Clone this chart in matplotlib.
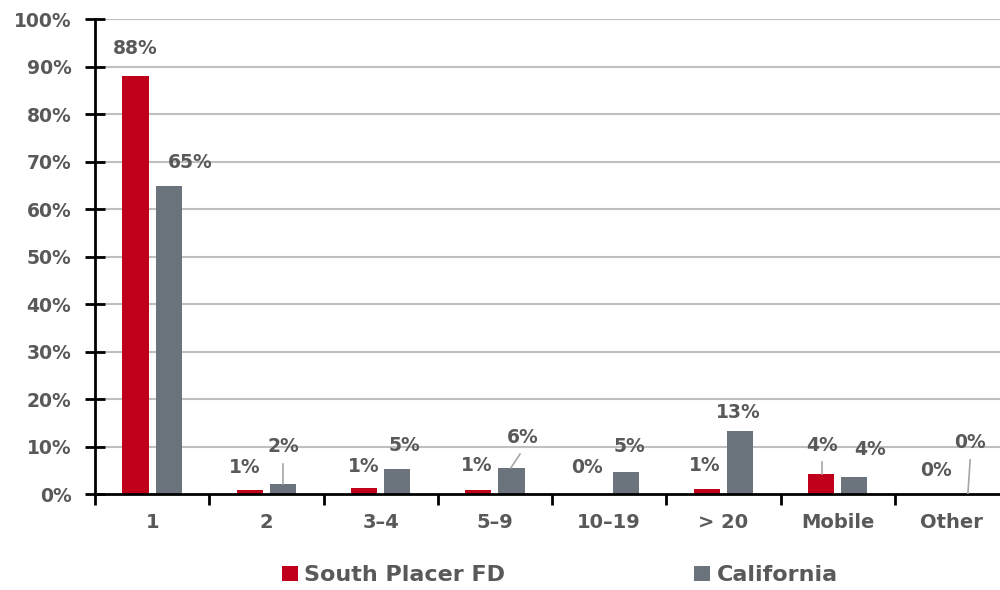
import matplotlib
matplotlib.use("Agg")
import matplotlib.pyplot as plt
import numpy as np

categories = ["1", "2", "3–4", "5–9", "10–19", "> 20", "Mobile", "Other"]
south_placer = [88.0, 0.9, 1.2, 0.9, 0.0, 1.0, 4.2, 0.0]
california = [64.8, 2.1, 5.2, 5.5, 4.6, 13.2, 3.6, 0.0]
series_names = ["South Placer FD", "California"]
ytick_vals = list(range(0, 101, 10))

RED = "#c0001a"
GRAY = "#6b737c"
TXT = "#595959"

plt.rcParams['font.family'] = ['DejaVu Sans']
plt.rcParams['font.weight'] = 'bold'

fig = plt.figure(figsize=(10, 5.9), dpi=100)
ax = fig.add_axes([0.095, 0.1627, 0.914, 0.805])

x = np.arange(len(categories)) + 0.5
w = 0.23
off = 0.145
b1 = ax.bar(x - off, south_placer, w, color=RED, zorder=3, label=series_names[0])
b2 = ax.bar(x + off, california, w, color=GRAY, zorder=3, label=series_names[1])

ax.set_xlim(0, len(categories))
ax.set_ylim(0, 100)
ax.set_yticks(ytick_vals)
ax.set_yticklabels([f"{v}%" for v in ytick_vals], fontsize=13.5, color=TXT, fontweight='bold')
for v in ytick_vals[1:]:
    ax.axhline(v, color="#bfbfbf", lw=1.5, zorder=1)

ax.set_xticks(np.arange(len(categories) + 1))
ax.set_xticklabels([])
ax.set_xticks(x, minor=True)
ax.set_xticklabels(categories, minor=True, fontsize=14, color=TXT, fontweight='bold')
ax.tick_params(axis='x', which='major', length=8, width=2, direction='out', color='black')
ax.tick_params(axis='x', which='minor', length=0, pad=14)
ax.tick_params(axis='y', length=14, width=2, direction='inout', color='black', pad=10)

for s in ['top', 'right']:
    ax.spines[s].set_visible(False)
ax.spines['left'].set_linewidth(2)
ax.spines['bottom'].set_linewidth(2)
ax.spines['left'].set_zorder(4)
ax.spines['bottom'].set_zorder(4)

# label positions (data coords) for each series: (x, y) and optional leader line
red_pos = [(0.35, 93.9, None), (1.31, 5.6, None), (2.35, 5.7, None), (3.34, 6.0, None),
           (4.31, 5.5, None), (5.34, 6.0, None), (6.36, 10.2, (6.36, 6.7, 4.3)),
           (7.36, 5.0, None)]
gray_pos = [(0.83, 69.8, None), (1.646, 10.1, (1.646, 6.3, 2.1)), (2.71, 10.3, None),
            (3.74, 12.0, (3.72, 8.4, 5.5, 3.64)), (4.68, 9.9, None), (5.63, 17.2, None),
            (6.78, 9.4, None), (7.66, 10.8, (7.66, 7.2, 0.0, 7.64))]

def draw_labels(vals, pos):
    for v, (px, py, lead) in zip(vals, pos):
        ax.text(px, py, f"{round(v)}%", ha='center', va='center', fontsize=13.5,
                color=TXT, fontweight='bold', zorder=5)
        if lead is not None:
            if len(lead) == 3:
                lx, y0, y1 = lead
                lx1 = lx
            else:
                lx, y0, y1, lx1 = lead
            ax.plot([lx, lx1], [y0, y1], color="#a6a6a6", lw=1.2, zorder=5)

draw_labels(south_placer, red_pos)
draw_labels(california, gray_pos)

leg = fig.legend(handles=[b1, b2], labels=series_names, loc='center',
                 bbox_to_anchor=(0.56, 0.025), ncol=2, frameon=False,
                 prop={'size': 16, 'weight': 'bold'}, handlelength=0.7,
                 handleheight=0.7, handletextpad=0.3, columnspacing=8.5)
for t in leg.get_texts():
    t.set_color(TXT)

fig.savefig("out.png", dpi=100)
